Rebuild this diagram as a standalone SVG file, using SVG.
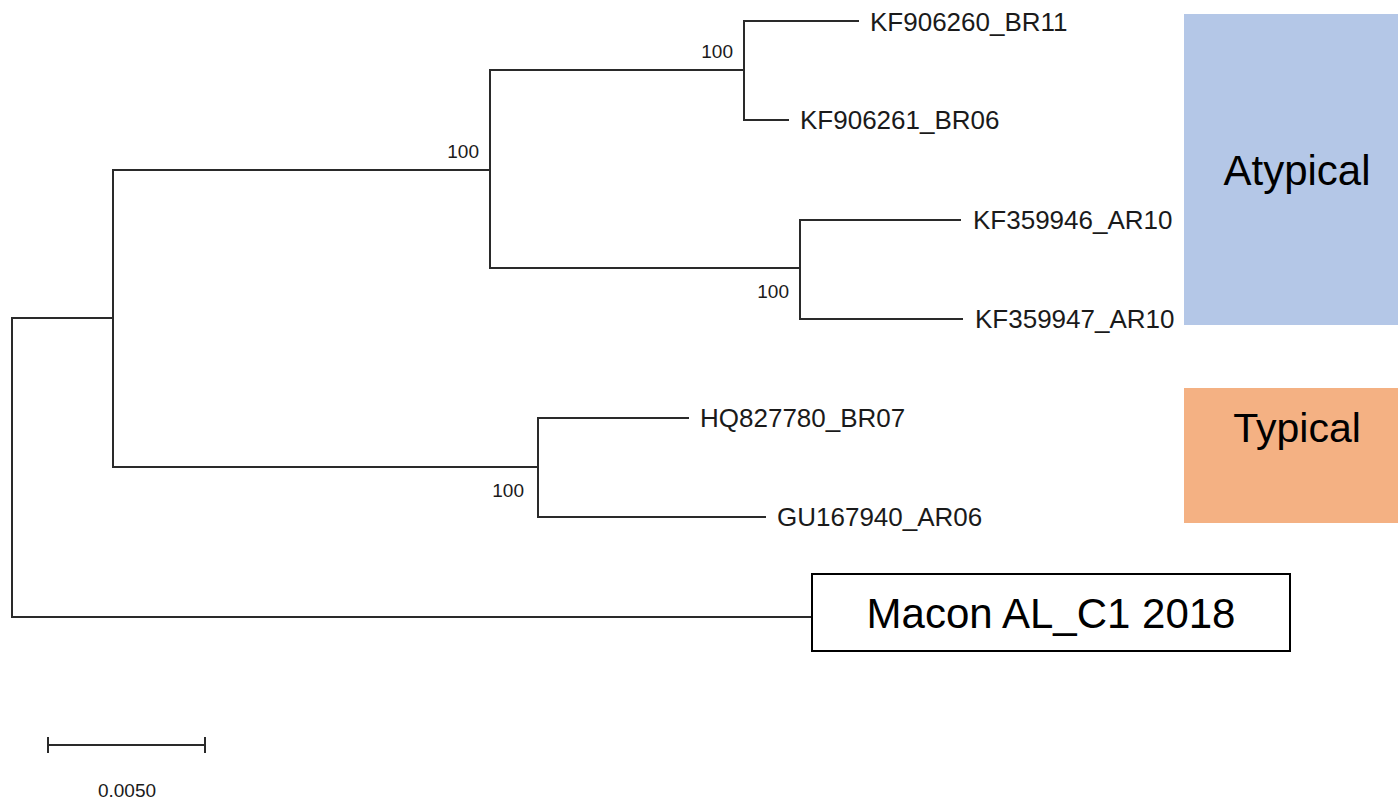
<svg xmlns="http://www.w3.org/2000/svg" width="1398" height="802" viewBox="0 0 1398 802">
<style>
.br{fill:none;stroke:#2a2a2a;stroke-width:2;stroke-linecap:square}
.leaf{font-family:"Liberation Sans",Arial,sans-serif;font-size:26px;fill:#1a1a1a}
.bs{font-family:"Liberation Sans",Arial,sans-serif;font-size:19px;fill:#1a1a1a}
.big{font-family:"Liberation Sans",Arial,sans-serif;fill:#000}
</style>
<rect width="1398" height="802" fill="#fff"/>
<g id="groups">
<g id="atypical"><rect x="1184" y="14" width="214" height="311" fill="#b4c7e7"/><text class="big" x="1297" y="185" font-size="42" text-anchor="middle">Atypical</text></g>
<g id="typical"><rect x="1184" y="388" width="214" height="135" fill="#f4b183"/><text class="big" x="1297" y="442" font-size="41" text-anchor="middle">Typical</text></g>
</g>
<g id="connectors">
<path class="br" d="M12,318 V617 H812"/>
<path class="br" d="M12,318 H113"/>
<path class="br" d="M113,170 V467"/>
<path class="br" d="M113,170 H490 V268"/>
<path class="br" d="M490,70 V170"/>
<path class="br" d="M490,70 H744 V120 H788"/>
<path class="br" d="M744,21 V70"/>
<path class="br" d="M744,21 H858"/>
<path class="br" d="M490,268 H800 V319 H962"/>
<path class="br" d="M800,220 V268"/>
<path class="br" d="M800,220 H960"/>
<path class="br" d="M113,467 H538 V517 H765"/>
<path class="br" d="M538,418 V467"/>
<path class="br" d="M538,418 H688"/>
</g>
<g id="bootstrap">
<text class="bs" x="733" y="58" text-anchor="end">100</text>
<text class="bs" x="479" y="158" text-anchor="end">100</text>
<text class="bs" x="789" y="298" text-anchor="end">100</text>
<text class="bs" x="524" y="497" text-anchor="end">100</text>
</g>
<g id="leaves">
<text class="leaf" id="KF906260" x="870" y="31">KF906260_BR11</text>
<text class="leaf" id="KF906261" x="800" y="129">KF906261_BR06</text>
<text class="leaf" id="KF359946" x="973" y="229">KF359946_AR10</text>
<text class="leaf" id="KF359947" x="975" y="328">KF359947_AR10</text>
<text class="leaf" id="HQ827780" x="700" y="427">HQ827780_BR07</text>
<text class="leaf" id="GU167940" x="777" y="526">GU167940_AR06</text>
</g>
<g id="macon">
<rect x="812" y="574" width="478" height="77" fill="#fff" stroke="#000" stroke-width="2"/>
<text class="big" x="1051" y="628" font-size="42" text-anchor="middle">Macon AL_C1 2018</text>
</g>
<g id="scalebar">
<path class="br" d="M48,745 H205 M48,738 V752 M205,738 V752"/>
<text class="bs" x="127" y="797" text-anchor="middle">0.0050</text>
</g>
</svg>
